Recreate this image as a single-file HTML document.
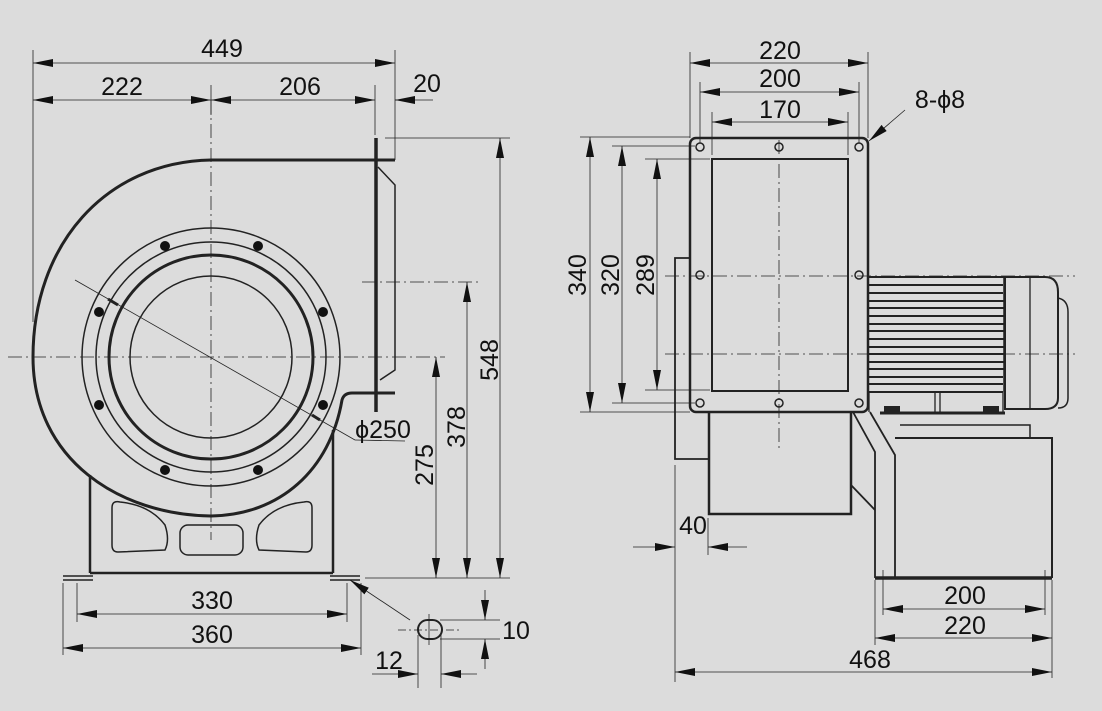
<!DOCTYPE html>
<html><head><meta charset="utf-8"><style>
html,body{margin:0;padding:0;background:#dcdcdc;}
svg{display:block;}
text{font-family:"Liberation Sans",sans-serif;font-size:25px;fill:#111;}
</style></head><body>
<svg width="1102" height="711" viewBox="0 0 1102 711" xmlns="http://www.w3.org/2000/svg">
<defs>
<marker id="a" viewBox="0 0 20 8" refX="20" refY="4" markerWidth="20" markerHeight="8" orient="auto-start-reverse" markerUnits="userSpaceOnUse"><path d="M0,0 L20,4 L0,8 Z" fill="#111"/></marker>
</defs>
<rect width="1102" height="711" fill="#dcdcdc"/>
<g stroke="#222" fill="none">
<g stroke-width="0.8" stroke-dasharray="14,4,2,4">
<line x1="8" y1="357" x2="445" y2="357"/>
<line x1="211" y1="100" x2="211" y2="540"/>
<line x1="362" y1="282" x2="478" y2="282"/>
</g>
<path d="M395,160 L211,160 C105,162 33,245 33,357 C33,460 120,515 211,516 C280,515 330,470 342,400 Q344,393 352,393 L395,393" stroke-width="3"/>
<line x1="376" y1="138" x2="376" y2="412" stroke-width="3.5"/>
<path d="M378,167 L395,185 L395,370 L380,380" stroke-width="1.5"/>
<circle cx="211" cy="357" r="129" stroke-width="1.5"/>
<circle cx="211" cy="357" r="115" stroke-width="1.5"/>
<circle cx="211" cy="357" r="102" stroke-width="3"/>
<circle cx="211" cy="357" r="81" stroke-width="1.5"/>
<g fill="#111" stroke="none">
<circle cx="165" cy="246" r="5"/><circle cx="258" cy="246" r="5"/>
<circle cx="99" cy="312" r="5"/><circle cx="323" cy="312" r="5"/>
<circle cx="99" cy="405" r="5"/><circle cx="323" cy="405" r="5"/>
<circle cx="165" cy="470" r="5"/><circle cx="258" cy="470" r="5"/>
</g>
<line x1="75" y1="280" x2="355" y2="440" stroke-width="0.8"/>
<line x1="355" y1="440" x2="405" y2="441" stroke-width="0.8"/>
<line x1="108" y1="299" x2="118" y2="305" stroke-width="3"/>
<line x1="312" y1="415" x2="320" y2="420" stroke-width="3"/>
<line x1="90" y1="475" x2="90" y2="573" stroke-width="2.5"/>
<line x1="333" y1="430" x2="333" y2="573" stroke-width="2.5"/>
<line x1="90" y1="573" x2="333" y2="573" stroke-width="2.5"/>
<path d="M63,576 L93,576 M63,580 L93,580 M330,576 L360,576 M330,580 L360,580" stroke-width="1.5"/>
<path d="M120,502 Q150,505 165,525 Q170,540 165,550 L118,552 Q112,552 112,545 L112,508 Q112,500 120,502 Z" stroke-width="1.5"/>
<rect x="180" y="525" width="63" height="30" rx="8" stroke-width="1.5"/>
<path d="M304,502 Q274,505 259,525 Q254,540 259,550 L306,552 Q312,552 312,545 L312,508 Q312,500 304,502 Z" stroke-width="1.5"/>
<g stroke-width="0.8">
<line x1="33" y1="50" x2="33" y2="322"/>
<line x1="395" y1="50" x2="395" y2="160"/>
<line x1="375" y1="85" x2="375" y2="135"/>
<line x1="211" y1="85" x2="211" y2="115"/>
<line x1="33" y1="63" x2="395" y2="63" marker-start="url(#a)" marker-end="url(#a)"/>
<line x1="33" y1="100" x2="211" y2="100" marker-start="url(#a)" marker-end="url(#a)"/>
<line x1="211" y1="100" x2="375" y2="100" marker-start="url(#a)" marker-end="url(#a)"/>
<line x1="395" y1="100" x2="433" y2="100"/>
<line x1="415" y1="100" x2="395" y2="100" marker-end="url(#a)"/>
<line x1="385" y1="138" x2="510" y2="138"/>
<line x1="365" y1="578" x2="510" y2="578"/>
<line x1="500" y1="138" x2="500" y2="578" marker-start="url(#a)" marker-end="url(#a)"/>
<line x1="467" y1="282" x2="467" y2="578" marker-start="url(#a)" marker-end="url(#a)"/>
<line x1="436" y1="357" x2="436" y2="578" marker-start="url(#a)" marker-end="url(#a)"/>
<line x1="77" y1="583" x2="77" y2="622"/><line x1="347" y1="583" x2="347" y2="622"/>
<line x1="63" y1="583" x2="63" y2="655"/><line x1="361" y1="583" x2="361" y2="655"/>
<line x1="77" y1="614" x2="347" y2="614" marker-start="url(#a)" marker-end="url(#a)"/>
<line x1="63" y1="648" x2="361" y2="648" marker-start="url(#a)" marker-end="url(#a)"/>
<line x1="410" y1="620" x2="350" y2="580" marker-end="url(#a)"/>
<line x1="398" y1="630" x2="460" y2="630" stroke-dasharray="8,3,2,3"/>
<line x1="429" y1="614" x2="429" y2="645"/>
<line x1="440" y1="620" x2="500" y2="620"/><line x1="440" y1="639" x2="500" y2="639"/>
<line x1="485" y1="590" x2="485" y2="620" marker-end="url(#a)"/>
<line x1="485" y1="669" x2="485" y2="639" marker-end="url(#a)"/>
<line x1="418" y1="635" x2="418" y2="688"/><line x1="441" y1="635" x2="441" y2="688"/>
<line x1="372" y1="674" x2="418" y2="674" marker-end="url(#a)"/>
<line x1="477" y1="674" x2="441" y2="674" marker-end="url(#a)"/>
</g>
<rect x="418" y="620" width="24" height="19" rx="9.5" stroke-width="2"/>

<g stroke-width="0.8" stroke-dasharray="14,4,2,4">
<line x1="665" y1="276" x2="1075" y2="276"/>
<line x1="665" y1="354" x2="1075" y2="354"/>
<line x1="779" y1="140" x2="779" y2="450"/>
</g>
<path d="M690,258 L675,258 L675,459 L709,459" stroke-width="1.8"/>
<rect x="690" y="138" width="178" height="274" rx="6" stroke-width="2.5"/>
<rect x="712" y="159" width="136" height="232" stroke-width="2"/>
<g stroke-width="1.5">
<circle cx="700" cy="147" r="4"/><circle cx="779" cy="147" r="4"/><circle cx="859" cy="147" r="4"/>
<circle cx="700" cy="275" r="4"/><circle cx="859" cy="275" r="4"/>
<circle cx="700" cy="403" r="4"/><circle cx="779" cy="403" r="4"/><circle cx="859" cy="403" r="4"/>
</g>
<path d="M709,412 L709,514 L851,514 L851,412" stroke-width="2.5"/>
<path d="M853,412 L875,452 L875,578" stroke-width="1.8"/>
<path d="M851,485 L875,510" stroke-width="1.8"/>
<path d="M870,412 L895,455 L895,578" stroke-width="1.8"/>
<path d="M895,438 L1052,438 L1052,578" stroke-width="2"/>
<line x1="875" y1="578" x2="1052" y2="578" stroke-width="3.5"/>
<path d="M900,425 L1030,425 L1030,438" stroke-width="1.5"/>
<path d="M880,413 L1005,413" stroke-width="3"/>
<g stroke-width="2">
<line x1="869" y1="277" x2="1005" y2="277"/>
<line x1="869" y1="285" x2="1003" y2="285"/>
<line x1="869" y1="293" x2="1003" y2="293"/>
<line x1="869" y1="301" x2="1004" y2="301"/>
<line x1="869" y1="308" x2="1004" y2="308"/>
<line x1="869" y1="316" x2="1005" y2="316"/>
<line x1="869" y1="324" x2="1005" y2="324"/>
<line x1="869" y1="331" x2="1005" y2="331"/>
<line x1="869" y1="339" x2="1005" y2="339"/>
<line x1="869" y1="347" x2="1005" y2="347"/>
<line x1="869" y1="354" x2="1005" y2="354"/>
<line x1="869" y1="362" x2="1005" y2="362"/>
<line x1="869" y1="369" x2="1004" y2="369"/>
<line x1="869" y1="377" x2="1003" y2="377"/>
<line x1="869" y1="384" x2="1003" y2="384"/>
<line x1="869" y1="392" x2="1003" y2="392"/>
</g>
<line x1="1004" y1="277" x2="1004" y2="392" stroke-width="1.5"/>
<path d="M869,392 L869,412 M935,392 L935,412 M940,392 L940,412 M1003,392 L1003,412" stroke-width="1.3"/>
<path d="M1005,277 L1045,277 Q1058,277 1058,292 L1058,398 Q1058,409 1045,409 L1005,409 Z" stroke-width="2"/>
<line x1="1030" y1="277" x2="1030" y2="409" stroke-width="1.3"/>
<path d="M1058,298 Q1068,300 1068,312 L1068,398 Q1068,408 1058,408" stroke-width="1.5"/>
<g fill="#222" stroke="none">
<rect x="884" y="406" width="16" height="7"/><rect x="983" y="406" width="16" height="7"/>
</g>
<g stroke-width="0.8">
<line x1="690" y1="52" x2="690" y2="138"/><line x1="868" y1="52" x2="868" y2="138"/>
<line x1="700" y1="82" x2="700" y2="143"/><line x1="859" y1="82" x2="859" y2="143"/>
<line x1="712" y1="112" x2="712" y2="155"/><line x1="848" y1="112" x2="848" y2="155"/>
<line x1="690" y1="63" x2="868" y2="63" marker-start="url(#a)" marker-end="url(#a)"/>
<line x1="700" y1="92" x2="859" y2="92" marker-start="url(#a)" marker-end="url(#a)"/>
<line x1="712" y1="122" x2="848" y2="122" marker-start="url(#a)" marker-end="url(#a)"/>
<line x1="905" y1="110" x2="869" y2="141" marker-end="url(#a)"/>
<line x1="580" y1="137" x2="690" y2="137"/><line x1="580" y1="412" x2="690" y2="412"/>
<line x1="612" y1="146" x2="695" y2="146"/><line x1="612" y1="403" x2="695" y2="403"/>
<line x1="645" y1="159" x2="710" y2="159"/><line x1="645" y1="390" x2="710" y2="390"/>
<line x1="590" y1="137" x2="590" y2="412" marker-start="url(#a)" marker-end="url(#a)"/>
<line x1="622" y1="146" x2="622" y2="403" marker-start="url(#a)" marker-end="url(#a)"/>
<line x1="657" y1="159" x2="657" y2="390" marker-start="url(#a)" marker-end="url(#a)"/>
<line x1="675" y1="465" x2="675" y2="682"/><line x1="708" y1="518" x2="708" y2="555"/>
<line x1="633" y1="547" x2="675" y2="547" marker-end="url(#a)"/>
<line x1="747" y1="547" x2="708" y2="547" marker-end="url(#a)"/>
<line x1="883" y1="570" x2="883" y2="615"/><line x1="1045" y1="570" x2="1045" y2="615"/>
<line x1="875" y1="580" x2="875" y2="645"/><line x1="1052" y1="580" x2="1052" y2="678"/>
<line x1="883" y1="609" x2="1045" y2="609" marker-start="url(#a)" marker-end="url(#a)"/>
<line x1="875" y1="638" x2="1052" y2="638" marker-start="url(#a)" marker-end="url(#a)"/>
<line x1="675" y1="672" x2="1052" y2="672" marker-start="url(#a)" marker-end="url(#a)"/>
</g>
</g>
<g text-anchor="middle">
<text x="222" y="57">449</text>
<text x="122" y="95">222</text>
<text x="300" y="95">206</text>
<text x="427" y="92">20</text>
<text x="383" y="438">ϕ250</text>
<text x="212" y="609">330</text>
<text x="212" y="643">360</text>
<text x="516" y="639">10</text>
<text x="389" y="669">12</text>
<text x="780" y="59">220</text>
<text x="780" y="87">200</text>
<text x="780" y="118">170</text>
<text x="940" y="108">8-ϕ8</text>
<text x="693" y="534">40</text>
<text x="965" y="604">200</text>
<text x="965" y="634">220</text>
<text x="870" y="668">468</text>
<text transform="translate(498,360) rotate(-90)">548</text>
<text transform="translate(465,427) rotate(-90)">378</text>
<text transform="translate(433,465) rotate(-90)">275</text>
<text transform="translate(586,275) rotate(-90)">340</text>
<text transform="translate(619,275) rotate(-90)">320</text>
<text transform="translate(654,275) rotate(-90)">289</text>
</g>
</svg>
</body></html>
